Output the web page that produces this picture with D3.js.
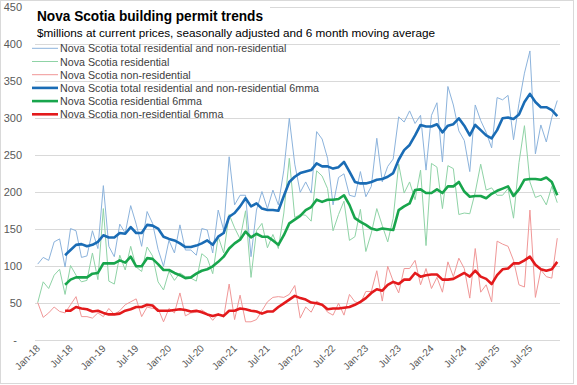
<!DOCTYPE html>
<meta charset="utf-8">
<style>
body { margin: 0; background: #fff; }
svg { font-family: "Liberation Sans", Arial, sans-serif; }
.grid line { stroke: #d9d9d9; stroke-width: 1; }
.ylab text { fill: #595959; font-size: 11px; }
.xlab text { fill: #595959; font-size: 10px; }
.legend text { fill: #404040; font-size: 10.7px; }
</style>
<body>
<script src="https://cdn.jsdelivr.net/npm/d3@7"></script>
<script>

// monthly, Jan-18 .. Dec-25
var startMonth = new Date(2018, 0, 1)
var nMonths = 96

var totalRaw = [103,112,108,133,137,99,151,148,112,114,148,124,209,127,113,157,145,182,157,127,
  174,158,123,100,135,118,156,122,122,115,151,149,118,176,149,248,183,196,196,113,
  176,201,178,203,183,230,300,238,200,214,199,282,272,246,183,220,225,196,194,228,
  194,208,273,214,235,245,302,295,310,293,304,230,304,321,241,343,318,283,270,228,
  318,297,281,260,328,325,331,271,320,361,391,252,291,268,301,324]

var resRaw = [51,79,70,88,96,62,101,88,79,81,118,82,178,80,76,115,95,127,99,93,
  126,114,79,68,93,81,91,86,84,80,117,111,90,140,118,170,152,137,175,85,
  148,158,125,143,124,172,246,166,170,169,161,229,222,205,148,170,188,135,140,177,
  120,145,178,155,133,165,238,199,214,190,230,128,239,234,178,236,232,170,172,171,
  200,238,203,206,196,196,205,165,240,290,214,193,196,183,208,186]

var nonresRaw = [51,31,37,45,39,37,48,59,32,32,30,37,32,43,35,40,48,52,56,32,
  45,43,43,25,43,37,64,33,37,38,41,36,27,36,31,76,28,61,25,25,
  28,40,52,58,59,58,62,74,30,45,38,53,48,38,34,50,34,62,52,50,
  66,66,94,53,100,80,64,97,97,108,75,97,70,85,65,106,86,111,97,57,
  124,65,75,52,134,130,127,108,75,72,176,58,95,86,84,138]

// 6 month moving averages, first value at Jun-18
var maStart = 5
var totalMA = [115,122,129,130,127,129,133,142,139,139,145,144,153,145,145,156,155,151,140,137,
  135,131,126,126,128,131,135,129,140,145,167,172,181,192,181,185,178,176,176,175,
  195,214,221,226,228,230,239,235,235,232,234,241,228,214,212,212,214,217,218,221,
  226,244,257,264,277,291,289,289,292,281,290,292,300,290,277,291,284,277,273,284,
  300,301,299,305,322,333,322,315,315,311,303]

var resMA = [75,82,85,85,85,90,91,104,104,104,108,105,113,100,100,111,110,103,95,95,
  91,88,84,85,90,94,96,100,106,113,124,131,136,147,139,144,140,140,135,129,
  142,158,163,168,176,180,190,187,190,190,191,196,183,165,160,156,151,149,151,150,
  149,176,181,185,203,204,199,199,204,199,208,208,214,201,194,195,195,192,198,202,
  205,208,195,204,217,218,218,217,220,214,196]

var nonresMA = [40,40,45,43,42,39,40,37,35,35,36,40,42,45,45,48,47,40,40,40,
  41,42,41,39,40,38,35,33,35,33,40,40,43,42,40,39,36,39,39,45,
  50,55,60,57,55,51,50,48,42,43,43,44,45,48,52,57,64,69,67,75,
  79,76,82,82,91,86,88,89,89,82,82,83,87,91,86,94,86,83,76,88,
  96,97,104,104,108,113,102,96,94,96,106]

var yTicks = [0,50,100,150,200,250,300,350,400,450]

var seriesNames = [
  'Nova Scotia total residential and non-residential',
  'Nova Scotia residential',
  'Nova Scotia non-residential',
  'Nova Scotia total residential and non-residential 6mma',
  'Nova Scotia residential 6mma',
  'Nova Scotia non-residential 6mma'
]
var seriesColors = ['#8cb3dc', '#8fd3a6', '#f09797', '#1a6cb5', '#18a54c', '#e31a1c']
var seriesWidths = [1, 1, 1, 2.6, 2.6, 2.6]

var width = 577
var height = 385
var plot = {left: 35, right: 560, top: 7.3, bottom: 340.3}

var months = d3.timeMonth.range(startMonth, d3.timeMonth.offset(startMonth, nMonths))
var fmt = d3.timeFormat('%b-%y')

var svg = d3.select('body').append('svg')
    .attr('width', width)
    .attr('height', height)

svg.append('rect')
    .attr('x', 0.5).attr('y', 0.5)
    .attr('width', 573).attr('height', 383)
    .attr('fill', '#fff')
    .attr('stroke', '#d9d9d9')

var x = d3.scaleBand()
    .domain(d3.range(nMonths))
    .range([plot.left, plot.right])

var y = d3.scaleLinear()
    .domain([0, 450])
    .range([plot.bottom, plot.top])

function cx(i) { return x(i) + x.bandwidth() / 2 }

// gridlines
svg.append('g')
    .attr('class', 'grid')
    .selectAll('line')
    .data(yTicks)
    .enter().append('line')
    .attr('x1', plot.left)
    .attr('x2', plot.right)
    .attr('y1', function (d) { return Math.round(y(d)) + 0.5 })
    .attr('y2', function (d) { return Math.round(y(d)) + 0.5 })

// y labels
svg.append('g')
    .attr('class', 'ylab')
    .selectAll('text')
    .data(yTicks)
    .enter().append('text')
    .attr('x', function (d) { return d === 0 ? 17 : 22 })
    .attr('y', function (d) { return y(d) + 4 })
    .attr('text-anchor', 'end')
    .text(function (d) { return d === 0 ? '-' : d })

// x labels, every 6 months
svg.append('g')
    .attr('class', 'xlab')
    .selectAll('text')
    .data(d3.range(0, nMonths, 6))
    .enter().append('text')
    .attr('text-anchor', 'end')
    .attr('transform', function (i) {
        return 'translate(' + (cx(i) + 3) + ',' + 349 + ') rotate(-45)'
    })
    .text(function (i) { return fmt(months[i]) })

// lines
var rawLine = d3.line()
    .x(function (d, i) { return cx(i) })
    .y(function (d) { return y(d) })

var maLine = d3.line()
    .x(function (d, i) { return cx(i + maStart) })
    .y(function (d) { return y(d) })

var allSeries = [
    {data: totalRaw, line: rawLine},
    {data: resRaw, line: rawLine},
    {data: nonresRaw, line: rawLine},
    {data: totalMA, line: maLine},
    {data: resMA, line: maLine},
    {data: nonresMA, line: maLine}
]

svg.append('g')
    .selectAll('path')
    .data(allSeries)
    .enter().append('path')
    .attr('fill', 'none')
    .attr('stroke', function (d, k) { return seriesColors[k] })
    .attr('stroke-width', function (d, k) { return seriesWidths[k] })
    .attr('stroke-linejoin', 'round')
    .attr('d', function (d) { return d.line(d.data) })

// title, with a white box that hides the top gridline behind it
svg.append('rect')
    .attr('x', 34).attr('y', 2)
    .attr('width', 236).attr('height', 12)
    .attr('fill', '#fff')

svg.append('text')
    .attr('x', 37).attr('y', 21)
    .attr('font-size', '15.5px')
    .attr('font-weight', 'bold')
    .attr('fill', '#000')
    .attr('textLength', 226)
    .attr('lengthAdjust', 'spacingAndGlyphs')
    .text('Nova Scotia building permit trends')

svg.append('text')
    .attr('x', 37).attr('y', 37)
    .attr('font-size', '11.5px')
    .attr('fill', '#000')
    .attr('textLength', 398)
    .attr('lengthAdjust', 'spacingAndGlyphs')
    .text('$millions at current prices, seasonally adjusted and 6 month moving average')

// legend
var legend = svg.append('g')
    .attr('class', 'legend')
    .selectAll('g')
    .data(seriesNames)
    .enter().append('g')
    .attr('transform', function (d, k) { return 'translate(32,' + (48.3 + k * 13.2) + ')' })

legend.append('line')
    .attr('x1', 0).attr('x2', 26)
    .attr('stroke', function (d, k) { return seriesColors[k] })
    .attr('stroke-width', function (d, k) { return seriesWidths[k] })

legend.append('text')
    .attr('x', 28)
    .attr('y', 4)
    .text(function (d) { return d })

</script>
</body>
